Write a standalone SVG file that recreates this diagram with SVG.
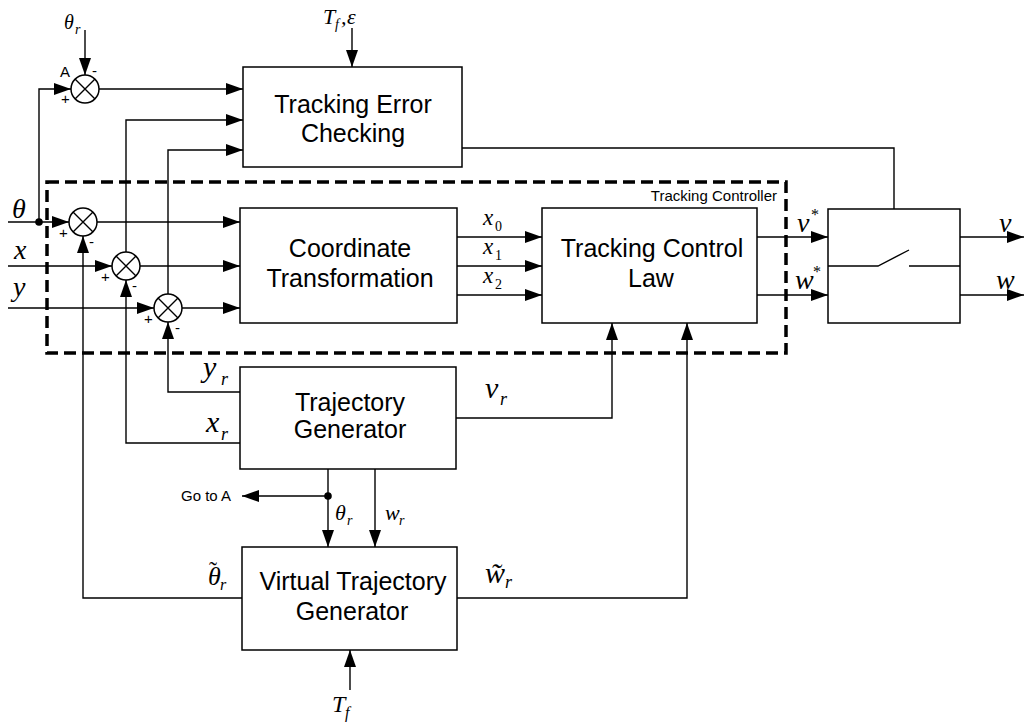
<svg xmlns="http://www.w3.org/2000/svg" width="1025" height="722" viewBox="0 0 1025 722">
<defs>
<marker id="ah" markerUnits="userSpaceOnUse" markerWidth="17" markerHeight="12" refX="17" refY="6" orient="auto">
<path d="M0,0 L17,6 L0,12 z" fill="#000"/>
</marker>
<style>
.box{fill:#fff;stroke:#000;stroke-width:1.5}
.ln{fill:none;stroke:#000;stroke-width:1.4}
.ar{fill:none;stroke:#000;stroke-width:1.4;marker-end:url(#ah)}
.t{font-family:"Liberation Sans",Arial,sans-serif;font-size:25px;fill:#000;text-anchor:middle}
.s{font-family:"Liberation Sans",Arial,sans-serif;font-size:15px;fill:#000}
.m{font-family:"Liberation Serif","Times New Roman",serif;font-style:italic;fill:#000}
.u{font-family:"Liberation Serif","Times New Roman",serif;fill:#000}
.sum{fill:#fff;stroke:#000;stroke-width:1.5}
</style>
</defs>
<rect width="1025" height="722" fill="#fff"/>

<g id="tracking-controller-frame">
<rect x="47" y="182" width="739" height="171" fill="none" stroke="#000" stroke-width="3.5" stroke-dasharray="12 6"/>
<text class="s" x="777" y="201" text-anchor="end" font-size="17">Tracking Controller</text>
</g>

<g id="connectors">
<line class="ar" x1="85" y1="30" x2="85" y2="75"/>
<polyline class="ar" points="39,222 39,89 71,89"/>
<line class="ar" x1="99" y1="89" x2="243" y2="89"/>
<line class="ar" x1="8" y1="222" x2="69" y2="222"/>
<line class="ar" x1="97" y1="222" x2="240" y2="222"/>
<line class="ar" x1="8" y1="266" x2="112" y2="266"/>
<line class="ar" x1="140" y1="266" x2="240" y2="266"/>
<line class="ar" x1="8" y1="308" x2="154" y2="308"/>
<line class="ar" x1="182" y1="308" x2="240" y2="308"/>
<polyline class="ar" points="126,252 126,120 243,120"/>
<polyline class="ar" points="168,294 168,150 243,150"/>
<polyline class="ar" points="240,443 126,443 126,280"/>
<polyline class="ar" points="240,392 168,392 168,322"/>
<polyline class="ar" points="242,598 83,598 83,236"/>
<line class="ar" x1="457" y1="237" x2="542" y2="237"/>
<line class="ar" x1="457" y1="266" x2="542" y2="266"/>
<line class="ar" x1="457" y1="295" x2="542" y2="295"/>
<line class="ar" x1="757" y1="237" x2="828" y2="237"/>
<line class="ar" x1="757" y1="295" x2="828" y2="295"/>
<line class="ar" x1="960" y1="237" x2="1024" y2="237"/>
<line class="ar" x1="960" y1="295" x2="1024" y2="295"/>
<polyline class="ar" points="462,148 894,148 894,258"/>
<polyline class="ar" points="456,418 612,418 612,323"/>
<polyline class="ar" points="457,598 687,598 687,323"/>
<line class="ar" x1="328" y1="469" x2="328" y2="547"/>
<line class="ar" x1="375" y1="469" x2="375" y2="547"/>
<line class="ar" x1="328" y1="496" x2="242" y2="496"/>
<line class="ar" x1="352" y1="28" x2="352" y2="67"/>
<line class="ar" x1="350" y1="690" x2="350" y2="650"/>
<circle cx="39" cy="222" r="3.8" fill="#000"/>
<circle cx="328" cy="496" r="3.8" fill="#000"/>
</g>

<g id="sum-A">
<circle class="sum" cx="85" cy="89" r="14"/>
<path class="ln" d="M75,79 L95,99 M95,79 L75,99"/>
<text class="s" x="60" y="77">A</text>
<text class="s" x="92" y="76">-</text>
<text class="s" x="61" y="104">+</text>
</g>
<g id="sum-theta">
<circle class="sum" cx="83" cy="222" r="14"/>
<path class="ln" d="M73,212 L93,232 M93,212 L73,232"/>
<text class="s" x="59" y="238">+</text>
<text class="s" x="89" y="247">-</text>
</g>
<g id="sum-x">
<circle class="sum" cx="126" cy="266" r="14"/>
<path class="ln" d="M116,256 L136,276 M136,256 L116,276"/>
<text class="s" x="101" y="282">+</text>
<text class="s" x="132" y="291">-</text>
</g>
<g id="sum-y">
<circle class="sum" cx="168" cy="308" r="14"/>
<path class="ln" d="M158,298 L178,318 M178,298 L158,318"/>
<text class="s" x="144" y="324">+</text>
<text class="s" x="175" y="333">-</text>
</g>

<g id="tracking-error-checking">
<rect class="box" x="243" y="67" width="219" height="100"/>
<text class="t" x="353" y="113">Tracking Error</text>
<text class="t" x="353" y="142">Checking</text>
</g>
<g id="coordinate-transformation">
<rect class="box" x="240" y="208" width="217" height="115"/>
<text class="t" x="350" y="257">Coordinate</text>
<text class="t" x="350" y="287">Transformation</text>
</g>
<g id="tracking-control-law">
<rect class="box" x="542" y="208" width="215" height="115"/>
<text class="t" x="652" y="257">Tracking Control</text>
<text class="t" x="651" y="287">Law</text>
</g>
<g id="switch">
<rect class="box" x="828" y="209" width="132" height="114"/>
<path class="ln" d="M828,266 L878,266 L909,250 M909,266 L960,266"/>
</g>
<g id="trajectory-generator">
<rect class="box" x="240" y="367" width="216" height="102"/>
<text class="t" x="350" y="411">Trajectory</text>
<text class="t" x="350" y="438">Generator</text>
</g>
<g id="virtual-trajectory-generator">
<rect class="box" x="242" y="547" width="215" height="103"/>
<text class="t" x="353" y="590">Virtual Trajectory</text>
<text class="t" x="352" y="620">Generator</text>
</g>

<g id="labels">
<text class="m" x="64" y="29" font-size="20">θ</text><text class="m" x="75" y="34" font-size="14">r</text>
<text class="m" x="323" y="24" font-size="22">T</text><text class="m" x="335" y="29" font-size="14">f</text><text class="m" x="341" y="24" font-size="22">,</text><text class="m" x="347" y="24" font-size="22">ε</text>
<text class="m" x="12" y="218" font-size="28">θ</text>
<text class="m" x="14" y="259" font-size="28">x</text>
<text class="m" x="13" y="296" font-size="28">y</text>
<text class="m" x="483" y="225" font-size="23">x</text><text class="u" x="495" y="231" font-size="14">0</text>
<text class="m" x="483" y="254" font-size="23">x</text><text class="u" x="495" y="260" font-size="14">1</text>
<text class="m" x="483" y="283" font-size="23">x</text><text class="u" x="495" y="289" font-size="14">2</text>
<text class="m" x="797" y="232" font-size="28">v</text><text class="u" x="811" y="220" font-size="16">*</text>
<text class="m" x="795" y="289" font-size="28">w</text><text class="u" x="813" y="277" font-size="16">*</text>
<text class="m" x="999" y="232" font-size="28">v</text>
<text class="m" x="996" y="289" font-size="28">w</text>
<text class="m" x="203" y="377" font-size="30">y</text><text class="m" x="221" y="385" font-size="18">r</text>
<text class="m" x="206" y="432" font-size="30">x</text><text class="m" x="221" y="440" font-size="18">r</text>
<text class="m" x="485" y="398" font-size="30">v</text><text class="m" x="500" y="405" font-size="18">r</text>
<text class="s" x="181" y="501" font-size="16">Go to A</text>
<text class="m" x="335" y="520" font-size="22">θ</text><text class="m" x="347" y="525" font-size="14">r</text>
<text class="m" x="385" y="520" font-size="22">w</text><text class="m" x="399" y="525" font-size="14">r</text>
<text class="m" x="208" y="585" font-size="26">θ<tspan class="u" font-style="normal" font-size="24" x="209" y="578">˜</tspan></text><text class="m" x="220" y="590" font-size="16">r</text>
<text class="m" x="485" y="583" font-size="30">w̃</text><text class="m" x="505" y="588" font-size="18">r</text>
<text class="m" x="332" y="712" font-size="24">T</text><text class="m" x="345" y="718" font-size="16">f</text>
</g>
</svg>
